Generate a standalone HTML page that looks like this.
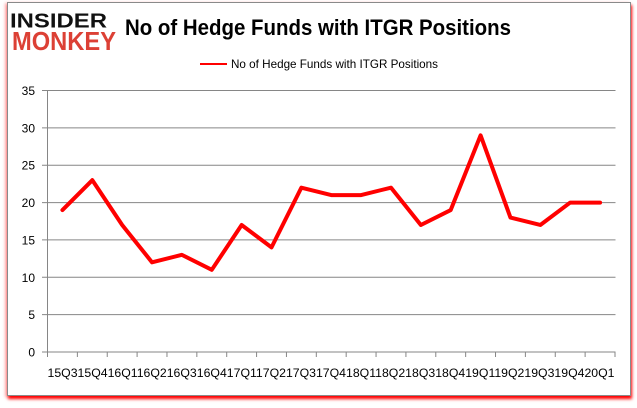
<!DOCTYPE html>
<html><head><meta charset="utf-8"><style>
html,body{margin:0;padding:0;background:#fff;}
body{width:637px;height:408px;position:relative;overflow:hidden;}
#frame{position:absolute;left:7px;top:2px;width:622px;height:392px;border:1px solid #8a8a8a;background:#fff;box-shadow:1px 3px 3px #f00,-2px 1px 3px rgba(255,0,0,0.3);}
svg{position:absolute;left:0;top:0;}
text{font-family:"Liberation Sans",Arial,sans-serif;}
</style></head><body>
<div id="frame"></div>
<svg width="637" height="408" viewBox="0 0 637 408">
<text x="10" y="27.5" font-size="20.5" font-weight="bold" fill="#111" textLength="97" lengthAdjust="spacingAndGlyphs">INSIDER</text>
<text x="12" y="50" font-size="26" font-weight="bold" fill="#dc4035" textLength="104" lengthAdjust="spacingAndGlyphs">MONKEY</text>
<text x="125" y="35" font-size="22" font-weight="bold" fill="#000" textLength="386" lengthAdjust="spacingAndGlyphs">No of Hedge Funds with ITGR Positions</text>
<line x1="200" y1="64" x2="227" y2="64" stroke="#f00" stroke-width="2"/>
<text x="231" y="68" font-size="12" fill="#000" textLength="207" lengthAdjust="spacingAndGlyphs">No of Hedge Funds with ITGR  Positions</text>
<g stroke="#868686" stroke-width="1">
<line x1="42" y1="90.5" x2="615.5" y2="90.5"/>
<line x1="42" y1="127.86" x2="615.5" y2="127.86"/>
<line x1="42" y1="165.21" x2="615.5" y2="165.21"/>
<line x1="42" y1="202.57" x2="615.5" y2="202.57"/>
<line x1="42" y1="239.93" x2="615.5" y2="239.93"/>
<line x1="42" y1="277.29" x2="615.5" y2="277.29"/>
<line x1="42" y1="314.64" x2="615.5" y2="314.64"/>
<line x1="42" y1="352" x2="615.5" y2="352"/>
<line x1="47.5" y1="90.5" x2="47.5" y2="357"/>
<line x1="77.37" y1="352" x2="77.37" y2="357"/>
<line x1="107.24" y1="352" x2="107.24" y2="357"/>
<line x1="137.10" y1="352" x2="137.10" y2="357"/>
<line x1="166.97" y1="352" x2="166.97" y2="357"/>
<line x1="196.84" y1="352" x2="196.84" y2="357"/>
<line x1="226.71" y1="352" x2="226.71" y2="357"/>
<line x1="256.58" y1="352" x2="256.58" y2="357"/>
<line x1="286.44" y1="352" x2="286.44" y2="357"/>
<line x1="316.31" y1="352" x2="316.31" y2="357"/>
<line x1="346.18" y1="352" x2="346.18" y2="357"/>
<line x1="376.05" y1="352" x2="376.05" y2="357"/>
<line x1="405.92" y1="352" x2="405.92" y2="357"/>
<line x1="435.78" y1="352" x2="435.78" y2="357"/>
<line x1="465.65" y1="352" x2="465.65" y2="357"/>
<line x1="495.52" y1="352" x2="495.52" y2="357"/>
<line x1="525.39" y1="352" x2="525.39" y2="357"/>
<line x1="555.26" y1="352" x2="555.26" y2="357"/>
<line x1="585.12" y1="352" x2="585.12" y2="357"/>
<line x1="615" y1="352" x2="615" y2="357"/>
</g>
<g font-size="12" fill="#000" text-anchor="end">
<text x="35" y="95">35</text>
<text x="35" y="132.4">30</text>
<text x="35" y="169.7">25</text>
<text x="35" y="207.1">20</text>
<text x="35" y="244.4">15</text>
<text x="35" y="281.8">10</text>
<text x="35" y="319.1">5</text>
<text x="35" y="356.5">0</text>
</g>
<text x="47.5" y="377" font-size="12" fill="#000" textLength="567" lengthAdjust="spacingAndGlyphs">15Q315Q416Q116Q216Q316Q417Q117Q217Q317Q418Q118Q218Q318Q419Q119Q219Q319Q420Q1</text>
<polyline fill="none" stroke="#f00" stroke-width="4" stroke-linejoin="round" stroke-linecap="round" points="62.43,210.04 92.30,180.16 122.17,224.99 152.04,262.34 181.90,254.87 211.77,269.81 241.64,224.99 271.51,247.4 301.37,187.63 331.24,195.1 361.11,195.1 390.98,187.63 420.85,224.99 450.71,210.04 480.58,135.33 510.45,217.51 540.32,224.99 570.19,202.57 600.05,202.57"/>
</svg>
</body></html>
